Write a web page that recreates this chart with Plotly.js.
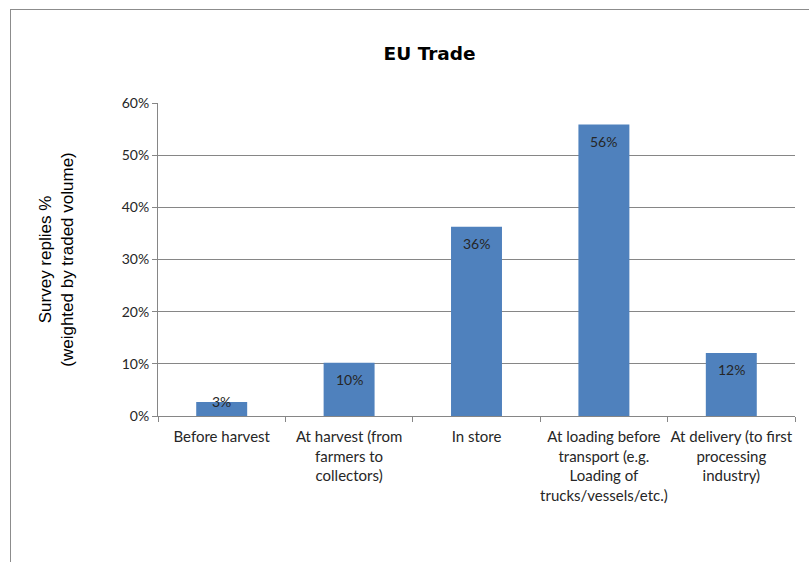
<!DOCTYPE html>
<html><head><meta charset="utf-8">
<script src="https://cdn.plot.ly/plotly-3.0.1.min.js"></script>
<style>
html,body{margin:0;padding:0;background:#fff;}
#wrap{position:relative;width:809px;height:562px;}
#frame{position:absolute;left:10px;top:9px;width:820px;height:600px;border-left:1px solid #8c8c8c;border-top:1px solid #8c8c8c;pointer-events:none;}
#chart{position:absolute;left:0;top:0;width:809px;height:562px;}
</style></head>
<body><div id="wrap"><div id="chart"></div><div id="frame"></div></div>
<script>
const categories = [
  "Before harvest",
  "At harvest (from<br>farmers to<br>collectors)",
  "In store",
  "At loading before<br>transport (e.g.<br>Loading of<br>trucks/vessels/etc.)",
  "At delivery (to first<br>processing<br>industry)"
];
const values = [0.027, 0.102, 0.363, 0.559, 0.121];
const yTickVals = [0, 0.1, 0.2, 0.3, 0.4, 0.5, 0.6];
const chartTitle = "EU Trade";
const yTitle = "Survey replies %<br>(weighted by traded volume)";
const labelShift = [0, -17, -17, -17, -17];

const tickFont = {family: "Lato, 'Open Sans', sans-serif", size: 15, color: "#262626"};
const labelFont = {family: "Lato, 'Open Sans', sans-serif", size: 14, color: "#262626"};

const annotations = categories.map((c, i) => ({
  x: c, y: values[i], xref: "x", yref: "y",
  text: Math.round(values[i] * 100) + "%",
  showarrow: false, yanchor: "middle", xanchor: "center",
  yshift: labelShift[i], font: labelFont
}));

Plotly.newPlot("chart", [{
  type: "bar",
  x: categories,
  y: values,
  marker: {color: "#4F81BD", line: {width: 0}},
  width: 0.4,
  hoverinfo: "none"
}], {
  width: 809, height: 562,
  margin: {l: 158, r: 14, t: 103, b: 145.5, pad: 0},
  paper_bgcolor: "#fff", plot_bgcolor: "#fff",
  showlegend: false,
  annotations: annotations,
  title: {text: "<b>" + chartTitle + "</b>", x: 0.531, xanchor: "center", y: 0.905, yanchor: "middle",
          font: {family: "'DejaVu Sans', sans-serif", size: 18.5, color: "#000"}},
  xaxis: {
    type: "category", tickson: "boundaries", ticks: "outside", ticklen: 5, tickcolor: "#868686",
    showline: true, linecolor: "#868686", linewidth: 1, showgrid: false,
    tickfont: tickFont, tickangle: 0, automargin: false, ticklabelstandoff: 7
  },
  yaxis: {
    range: [0, 0.6], tickvals: yTickVals, tickformat: ".0%",
    ticks: "outside", ticklen: 5, tickcolor: "#868686",
    showline: true, linecolor: "#868686", linewidth: 1,
    showgrid: true, gridcolor: "#868686", gridwidth: 1, zeroline: false,
    tickfont: {family: "Lato, 'Open Sans', sans-serif", size: 14, color: "#262626"}, automargin: false,
    title: {text: yTitle, standoff: 43, font: {family: "'Liberation Sans', Arial, sans-serif", size: 17, color: "#000"}}
  },
  bargap: 0.6
}, {displayModeBar: false, staticPlot: true});
</script></body></html>
